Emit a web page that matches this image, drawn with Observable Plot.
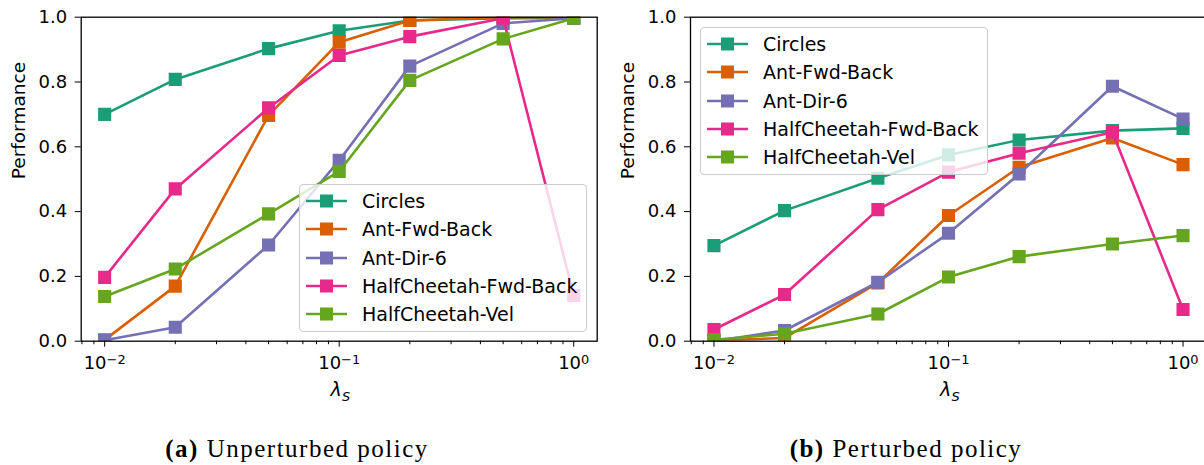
<!DOCTYPE html>
<html>
<head>
<meta charset="utf-8">
<script src="https://cdn.jsdelivr.net/npm/d3@7"></script>
<script src="https://cdn.jsdelivr.net/npm/@observablehq/plot@0.6"></script>
<style>
  html, body { margin: 0; padding: 0; background: white; }
  body { width: 1204px; height: 465px; overflow: hidden; position: relative; font-family: "DejaVu Sans", sans-serif; }
  .panel { position: absolute; top: 0; }
  .legend { position: absolute; border: 1px solid #cccccc; border-radius: 4px; background: rgba(255,255,255,0.8); box-sizing: border-box; }
  .row { position: absolute; left: 0; height: 20px; }
  .row svg { position: absolute; left: 5px; top: 0; }
  .row span { position: absolute; left: 62px; top: -2px; font-size: 19px; white-space: nowrap; color: #000; line-height: 24px; }
  .caption { position: absolute; top: 435px; font-family: "Liberation Serif", "DejaVu Serif", serif; font-size: 25px; letter-spacing: 1.5px; color: #000; white-space: nowrap; transform: translateX(-50%); }
</style>
</head>
<body>
<div id="root"></div>
<script>
// ---- data ----
const lambdas = [0.01, 0.02, 0.05, 0.1, 0.2, 0.5, 1];
const seriesNames = ["Circles", "Ant-Fwd-Back", "Ant-Dir-6", "HalfCheetah-Fwd-Back", "HalfCheetah-Vel"];
const seriesColors = ["#1b9e77", "#d95f02", "#7570b3", "#e7298a", "#66a61e"];

const unperturbedCircles      = [0.700, 0.808, 0.903, 0.958, 0.990, 0.997, 0.997];
const unperturbedAntFwdBack   = [0.004, 0.170, 0.697, 0.923, 0.990, 1.000, 1.000];
const unperturbedAntDir6      = [0.003, 0.043, 0.297, 0.558, 0.849, 0.981, 0.997];
const unperturbedHCFwdBack    = [0.197, 0.470, 0.720, 0.882, 0.940, 0.997, 0.141];
const unperturbedHCVel        = [0.138, 0.223, 0.393, 0.524, 0.805, 0.933, 0.997];

const perturbedCircles        = [0.295, 0.403, 0.503, 0.575, 0.621, 0.650, 0.657];
const perturbedAntFwdBack     = [0.002, 0.010, 0.180, 0.388, 0.537, 0.627, 0.545];
const perturbedAntDir6        = [0.000, 0.033, 0.182, 0.333, 0.516, 0.787, 0.686];
const perturbedHCFwdBack      = [0.036, 0.144, 0.406, 0.522, 0.580, 0.645, 0.098];
const perturbedHCVel          = [0.004, 0.023, 0.084, 0.198, 0.261, 0.300, 0.326];

const yTicks = [0, 0.2, 0.4, 0.6, 0.8, 1.0];
const xMajorTicks = [0.01, 0.1, 1];
const xMajorExponents = ["\u22122", "\u22121", "0"];
const xMinorTicks = [0.008, 0.009, 0.02, 0.03, 0.04, 0.05, 0.06, 0.07, 0.08, 0.09, 0.2, 0.3, 0.4, 0.5, 0.6, 0.7, 0.8, 0.9];
const captions = [["(a)", "Unperturbed policy"], ["(b)", "Perturbed policy"]];

const panels = [
  {values: [unperturbedCircles, unperturbedAntFwdBack, unperturbedAntDir6, unperturbedHCFwdBack, unperturbedHCVel],
   left: 0, width: 602, marginLeft: 80.7, marginRight: 5.3,
   legend: {left: 299, top: 184}, caption: 297},
  {values: [perturbedCircles, perturbedAntFwdBack, perturbedAntDir6, perturbedHCFwdBack, perturbedHCVel],
   left: 602, width: 604, marginLeft: 88, marginRight: 0,
   legend: {left: 700, top: 27}, caption: 906}
];

const root = document.getElementById("root");

panels.forEach((p, pi) => {
  const table = [];
  seriesNames.forEach((s, si) => lambdas.forEach((l, i) => table.push({series: s, lambda: l, perf: p.values[si][i]})));
  const marks = [];
  seriesNames.forEach((s) => {
    const rows = table.filter(d => d.series === s);
    marks.push(Plot.line(rows, {x: "lambda", y: "perf", stroke: "series", strokeWidth: 2.6, clip: true}));
    marks.push(Plot.dot(rows, {x: "lambda", y: "perf", fill: "series", symbol: "square", r: 7.4, clip: true}));
  });
  marks.push(Plot.axisY(yTicks, {tickSize: 6, tickPadding: 8, tickFormat: d => d.toFixed(1), label: null, fontSize: 18}));
  marks.push(Plot.axisX(xMinorTicks, {tickSize: 3.5, tickFormat: () => "", label: null}));
  marks.push(Plot.axisX(xMajorTicks, {tickSize: 6, tickPadding: 9, tickFormat: d => "10^" + xMajorExponents[xMajorTicks.indexOf(d)], label: null, fontSize: 18}));
  marks.push(Plot.frame({stroke: "#000", strokeWidth: 1.3}));
  marks.push(Plot.text(["Performance"], {frameAnchor: "left", rotate: -90, dx: -62, fontSize: 18.5}));
  marks.push(Plot.text(["\u03BB"], {frameAnchor: "bottom", dy: 55, dx: -3, fontSize: 19, fontStyle: "italic"}));
  marks.push(Plot.text(["S"], {frameAnchor: "bottom", dy: 60, dx: 7, fontSize: 13, fontStyle: "italic"}));

  const chart = Plot.plot({
    width: p.width, height: 410,
    marginLeft: p.marginLeft, marginRight: p.marginRight, marginTop: 16.7, marginBottom: 69.3,
    x: {type: "log", domain: [Math.pow(10, -2.1), Math.pow(10, 0.1)]},
    y: {domain: [0, 1]},
    color: {domain: seriesNames, range: seriesColors},
    style: {fontFamily: "DejaVu Sans", fontSize: "18px", color: "#000", background: "white", overflow: "visible"},
    marks
  });
  // render exponents as superscripts
  d3.select(chart).selectAll("text").each(function() {
    const t = this.textContent;
    if (/^10\^/.test(t)) {
      const exp = t.slice(3);
      const sel = d3.select(this);
      sel.text("");
      sel.append("tspan").text("10");
      sel.append("tspan").attr("dy", "-0.42em").attr("font-size", "0.72em").text(exp);
    }
  });
  chart.classList.add("panel");
  chart.style.left = p.left + "px";
  root.appendChild(chart);

  // legend
  const lg = document.createElement("div");
  lg.className = "legend";
  lg.style.left = p.legend.left + "px";
  lg.style.top = p.legend.top + "px";
  lg.style.width = "288px";
  lg.style.height = "148px";
  seriesNames.forEach((s, si) => {
    const row = document.createElement("div");
    row.className = "row";
    row.style.top = (6 + si * 28.3) + "px";
    const c = seriesColors[si];
    row.innerHTML = `<svg width="44" height="20"><line x1="1" x2="42" y1="10" y2="10" stroke="${c}" stroke-width="2.6"/><rect x="15" y="3.5" width="13" height="13" fill="${c}"/></svg><span>${s}</span>`;
    lg.appendChild(row);
  });
  root.appendChild(lg);

  const cap = document.createElement("div");
  cap.className = "caption";
  cap.style.left = p.caption + "px";
  cap.innerHTML = `<b>${captions[pi][0]}</b> ${captions[pi][1]}`;
  root.appendChild(cap);
});
</script>
</body>
</html>
